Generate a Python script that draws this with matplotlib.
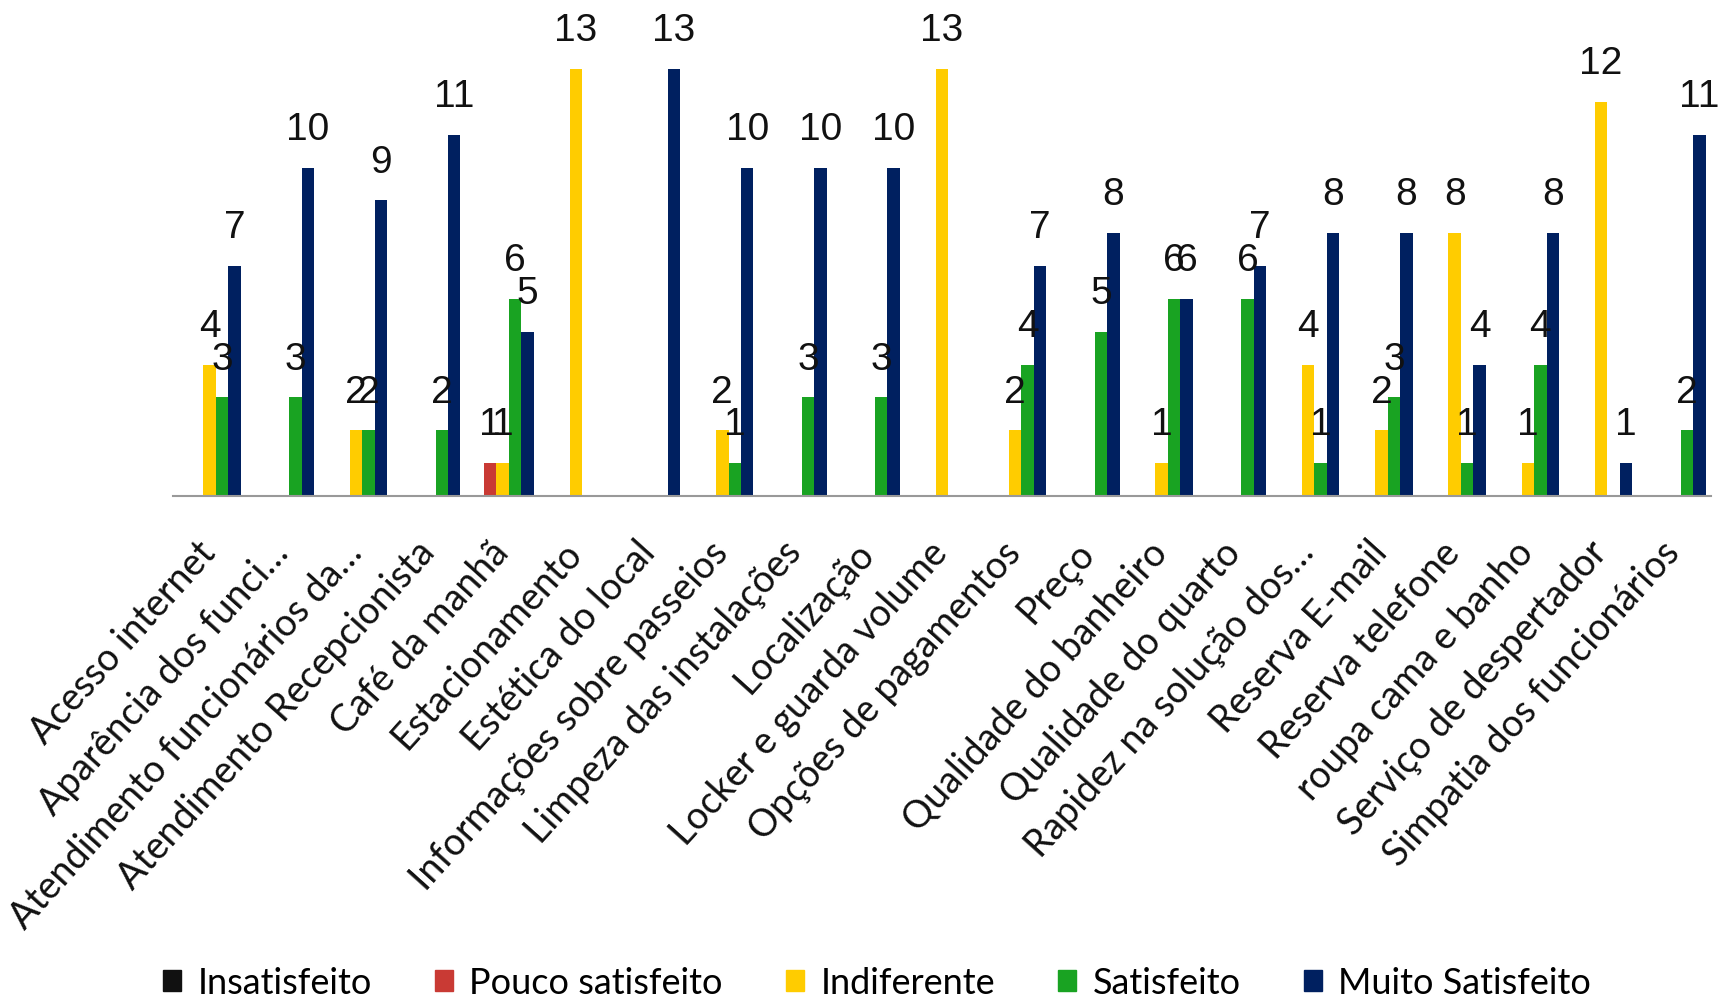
import numpy as np
import matplotlib
matplotlib.use("Agg")
import matplotlib.pyplot as plt
import matplotlib.transforms as mtransforms
from matplotlib.patches import Patch


categories = ["Acesso internet", "Aparência dos funci…", "Atendimento funcionários da…",
              "Atendimento Recepcionista", "Café da manhã", "Estacionamento",
              "Estética do local", "Informações sobre passeios", "Limpeza das instalações",
              "Localização", "Locker e guarda volume", "Opções de pagamentos", "Preço",
              "Qualidade do banheiro", "Qualidade do quarto", "Rapidez na solução dos…",
              "Reserva E-mail", "Reserva telefone", "roupa cama e banho",
              "Serviço de despertador", "Simpatia dos funcionários"]

insatisfeito = [0, 0, 0, 0, 0, 0, 0, 0, 0, 0, 0, 0, 0, 0, 0, 0, 0, 0, 0, 0, 0]
pouco_satisfeito = [0, 0, 0, 0, 1, 0, 0, 0, 0, 0, 0, 0, 0, 0, 0, 0, 0, 0, 0, 0, 0]
indiferente = [4, 0, 2, 0, 1, 13, 0, 2, 0, 0, 13, 2, 0, 1, 0, 4, 2, 8, 1, 12, 0]
satisfeito = [3, 3, 2, 2, 6, 0, 0, 1, 3, 3, 0, 4, 5, 6, 6, 1, 3, 1, 4, 0, 2]
muito_satisfeito = [7, 10, 9, 11, 5, 0, 13, 10, 10, 10, 0, 7, 8, 6, 7, 8, 8, 4, 8, 1, 11]

series_names = ["Insatisfeito", "Pouco satisfeito", "Indiferente", "Satisfeito", "Muito Satisfeito"]
series_vals = [insatisfeito, pouco_satisfeito, indiferente, satisfeito, muito_satisfeito]
colors = ["#111111", "#C93A34", "#FFCC00", "#19A322", "#002060"]

fig = plt.figure(figsize=(17.2, 10), dpi=100)
ax = fig.add_axes([173 / 1720, 0.504, (1711 - 173) / 1720, 0.427])

x = np.arange(len(categories))
w = 0.17
for k in range(5):
    pos = x + (k - 2) * w
    ax.bar(pos, series_vals[k], w, color=colors[k], label=series_names[k])
    for p, v in zip(pos, series_vals[k]):
        if v > 0:
            ax.annotate(str(v), (p, v), xytext=(0, 20), textcoords="offset points",
                        ha="center", va="baseline", fontsize=28,
                        family="Liberation Sans", color="#111111",
                        annotation_clip=False)

ax.set_xlim(-0.5, len(categories) - 0.5)
ax.set_ylim(0, 13)
for s in ["top", "left", "right"]:
    ax.spines[s].set_visible(False)
ax.spines["bottom"].set_color("#999999")
ax.spines["bottom"].set_linewidth(1.5)
ax.set_yticks([])
ax.set_xticks(x)
ax.set_xticklabels(categories, rotation=48, ha="right", va="top",
                   rotation_mode="anchor", fontsize=27, family="Lato", color="#111111")
ax.tick_params(axis="x", length=0, pad=28)
# labels sit a bit left of the group centre
shift = mtransforms.ScaledTranslation(-14 / 100, 0, fig.dpi_scale_trans)
for lbl in ax.get_xticklabels():
    lbl.set_transform(lbl.get_transform() + shift)

handles = [Patch(color=c) for c in colors]
fig.legend(handles, series_names, loc="center", bbox_to_anchor=(0.51, 0.017), ncol=5,
           frameon=False, prop={"family": "Lato", "size": 26},
           handlelength=0.5, handleheight=0.5, handletextpad=0.45, columnspacing=1.75)

fig.savefig("out.png", dpi=100)
